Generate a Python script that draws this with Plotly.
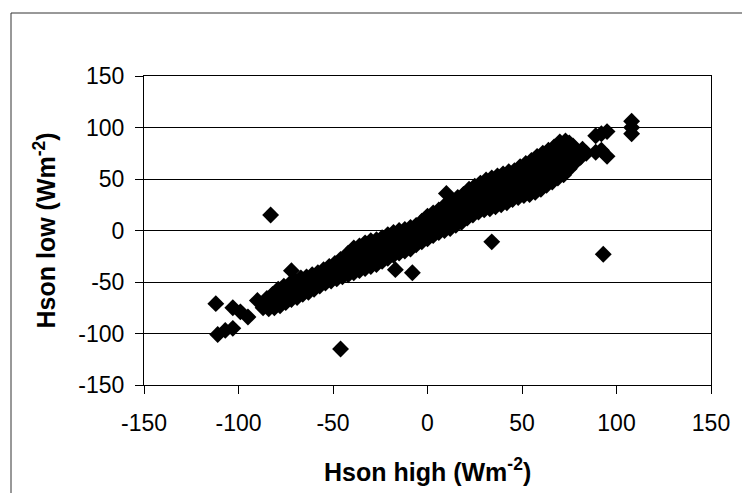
import plotly.graph_objects as go

# Main cloud of points (Hson high, Hson low)
band_high = [
    -84, -83, -85,
    -81, -80, -82,
    -78, -77, -79,
    -75, -74, -76,
    -72, -71, -73,
    -69, -68, -70,
    -66, -65, -67,
    -63, -62, -64,
    -60, -59, -61,
    -57, -56, -58,
    -54, -53, -55,
    -51, -50, -52,
    -48, -47, -49,
    -45, -44, -46,
    -42, -41, -43, -42,
    -39, -38, -40, -39,
    -36, -35, -37, -36,
    -33, -32, -34, -33,
    -30, -29, -31, -30,
    -27, -26, -28, -27,
    -24, -23, -25, -24,
    -21, -20, -22, -21,
    -18, -17, -19, -18,
    -15, -14, -16, -15,
    -12, -11, -13, -12,
    -9, -8, -10, -9,
    -6, -5, -7, -6,
    -3, -2, -4, -3,
    0, 1, -1, 0,
    3, 4, 2, 3,
    6, 7, 5, 6,
    9, 10, 8, 9,
    12, 13, 11, 12, 13,
    15, 16, 14, 15, 16,
    18, 19, 17, 18, 19,
    21, 22, 20, 21, 22,
    24, 25, 23, 24, 25,
    27, 28, 26, 27, 28,
    30, 31, 29, 30, 31,
    33, 34, 32, 33, 34,
    36, 37, 35, 36, 37,
    39, 40, 38, 39, 40,
    42, 43, 41, 42, 43,
    45, 46, 44, 45, 46,
    48, 49, 47, 48, 49,
    51, 52, 50, 51, 52,
    54, 55, 53, 54, 55,
    57, 58, 56, 57, 58,
    60, 61, 59, 60, 61,
    63, 64, 62, 63, 64,
    66, 67, 65, 66, 67,
    69, 70, 68, 69, 70,
    72, 73, 71, 72, 73,
    75, 76, 74, 75,
    78, 79, 77,
    81, 82,
    84,
]
band_low = [
    -76, -70, -66,
    -75, -68, -62,
    -73, -65, -57,
    -70, -62, -54,
    -67, -59, -52,
    -65, -57, -49,
    -62, -54, -46,
    -60, -52, -45,
    -57, -50, -43,
    -54, -47, -41,
    -51, -44, -38,
    -49, -42, -35,
    -47, -40, -32,
    -45, -37, -28,
    -43, -36, -29, -22,
    -41, -33, -25, -17,
    -39, -31, -23, -15,
    -37, -29, -20, -12,
    -35, -27, -18, -10,
    -33, -25, -17, -9,
    -30, -22, -15, -7,
    -27, -19, -12, -4,
    -24, -17, -9, -2,
    -22, -15, -7, 0,
    -20, -13, -6, 1,
    -18, -11, -4, 3,
    -14, -8, -1, 5,
    -11, -4, 2, 9,
    -8, 0, 7, 14,
    -5, 2, 10, 17,
    -2, 5, 13, 20,
    0, 8, 16, 24,
    2, 9, 16, 22, 28,
    5, 12, 19, 26, 32,
    8, 15, 22, 29, 35,
    12, 19, 26, 33, 40,
    15, 22, 29, 36, 43,
    18, 25, 32, 39, 46,
    20, 27, 35, 42, 49,
    21, 29, 36, 44, 51,
    23, 31, 38, 46, 53,
    25, 33, 40, 48, 55,
    27, 35, 42, 50, 57,
    30, 37, 44, 51, 58,
    32, 40, 47, 55, 62,
    34, 42, 50, 58, 65,
    35, 43, 51, 60, 68,
    37, 46, 55, 64, 72,
    40, 49, 58, 67, 75,
    44, 53, 61, 70, 78,
    47, 56, 64, 73, 81,
    51, 60, 69, 78, 86,
    54, 62, 71, 79, 87,
    60, 68, 77, 85,
    66, 74, 82,
    71, 79,
    75,
]

# Isolated points
outlier_high = [-112, -103, -99, -95, -111, -107, -103, -90, -87, -72, -83, -46,
                -17, -8, 10, 34, 93, 108, 108, 108, 89, 92, 95, 89, 92, 95]
outlier_low = [-71, -75, -79, -84, -101, -97, -95, -68, -75, -39, 15, -115,
               -38, -41, 36, -11, -23, 106, 100, 94, 92, 94, 96, 76, 78, 72]

assert len(band_high) == len(band_low), (len(band_high), len(band_low))
assert len(outlier_high) == len(outlier_low)

hson_high = band_high + outlier_high
hson_low = band_low + outlier_low

tick_vals = [-150, -100, -50, 0, 50, 100, 150]
tick_text = ["-150", "-100", "-50", "0", "50", "100", "150"]
x_title = "<b>Hson high (Wm<sup>-2</sup>)</b>"
y_title = "<b>Hson low (Wm<sup>-2</sup>)</b>"

FONT = "Liberation Sans, Arial, sans-serif"

fig = go.Figure(
    go.Scatter(
        x=hson_high, y=hson_low, mode="markers",
        marker=dict(symbol="diamond", size=13, color="black", line=dict(width=0)),
        hoverinfo="x+y",
    )
)

W, H = 742, 493
L, R, T, B = 144, 31, 76, 108
pw, ph = W - L - R, H - T - B

def px_x(p):
    return (p - L) / pw

def px_y(p):
    return (H - B - p) / ph

axis_common = dict(
    range=[-150, 150], tickvals=tick_vals, ticktext=tick_text, zeroline=False,
    showline=True, linecolor="black", linewidth=1, mirror=True,
    ticks="outside", ticklen=8, tickcolor="black", tickwidth=1,
    tickfont=dict(size=23, color="black", family=FONT),
)

fig.update_layout(
    width=W, height=H,
    margin=dict(l=L, r=R, t=T, b=B, pad=0),
    paper_bgcolor="white", plot_bgcolor="white",
    showlegend=False,
    font=dict(family=FONT, color="black"),
    xaxis=dict(**axis_common, showgrid=False, ticklabelstandoff=9),
    yaxis=dict(**axis_common, showgrid=True, gridcolor="black", gridwidth=1,
               ticklabelstandoff=6),
    annotations=[
        dict(text=x_title, xref="paper", yref="paper", x=0.5, y=px_y(470),
             xanchor="center", yanchor="middle", showarrow=False,
             font=dict(size=25, color="black", family=FONT)),
        dict(text=y_title, xref="paper", yref="paper", x=px_x(44), y=0.5,
             xanchor="center", yanchor="middle", showarrow=False, textangle=-90,
             font=dict(size=25, color="black", family=FONT)),
    ],
    shapes=[
        dict(type="line", xref="paper", yref="paper",
             x0=px_x(11), x1=px_x(760), y0=px_y(13), y1=px_y(13),
             line=dict(color="#333333", width=1)),
        dict(type="line", xref="paper", yref="paper",
             x0=px_x(11), x1=px_x(11), y0=px_y(13), y1=px_y(520),
             line=dict(color="#333333", width=1)),
    ],
)

fig.write_html("out.html")
